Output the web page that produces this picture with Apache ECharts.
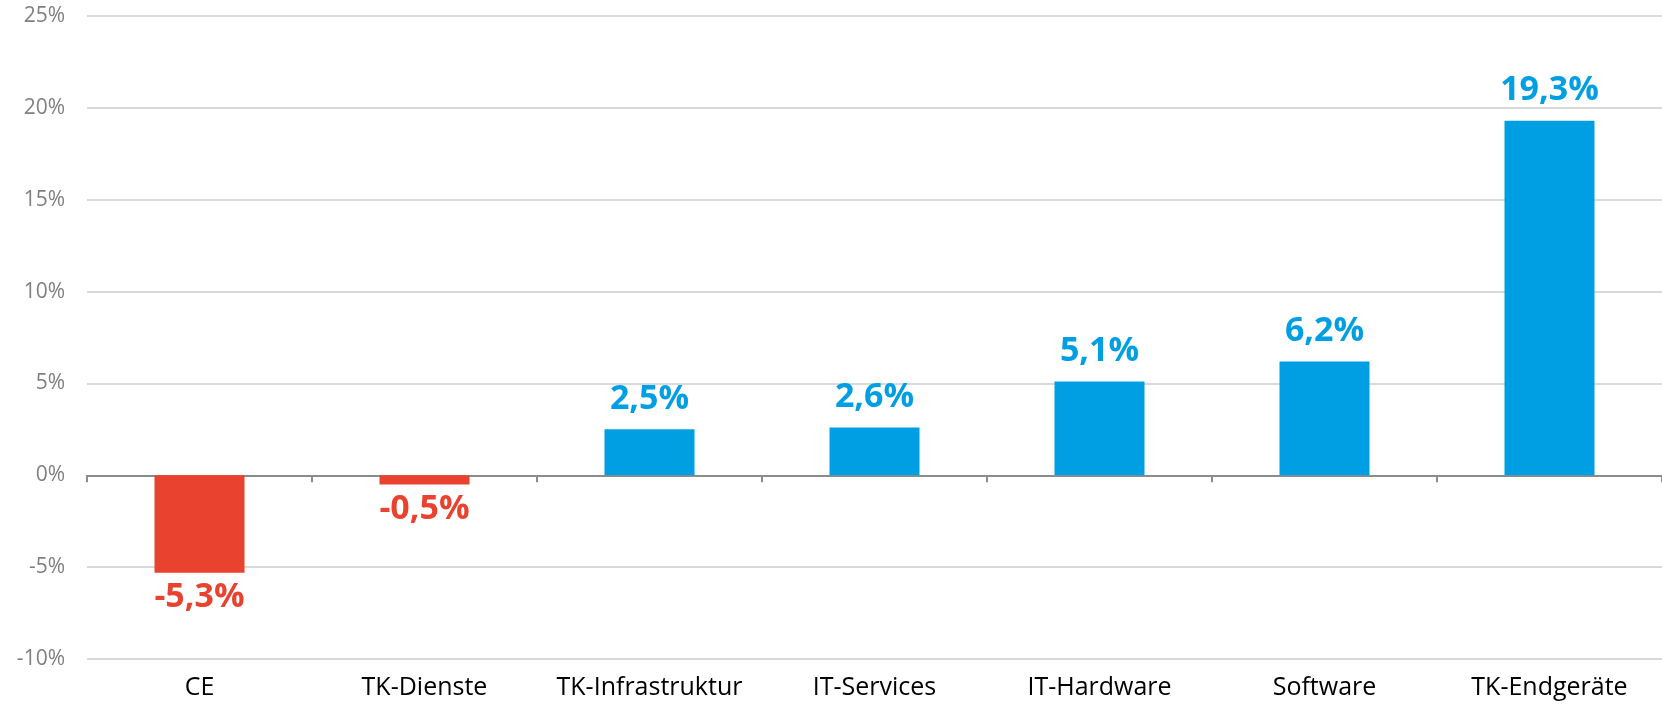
<!DOCTYPE html>
<html><head><meta charset="utf-8">
<script src="https://cdn.jsdelivr.net/npm/echarts@6/dist/echarts.min.js"></script>
<style>html,body{margin:0;padding:0;background:#fff}#c{width:1662px;height:705px}</style>
</head><body><div id="c"></div>
<script>
const categories = ['CE','TK-Dienste','TK-Infrastruktur','IT-Services','IT-Hardware','Software','TK-Endgeräte'];
const values = [-5.3, -0.5, 2.5, 2.6, 5.1, 6.2, 19.3];
const yTicks = [-10, -5, 0, 5, 10, 15, 20, 25];
const RED = '#E9422F', BLUE = '#009FE3';
const fmt = v => v.toFixed(1).replace('.', ',') + '%';
const chart = echarts.init(document.getElementById('c'));
chart.setOption({
  animation: false,
  grid: {left: 87, width: 1581, top: 16, bottom: 46},
  xAxis: [{
    type: 'category', data: categories, position: 'bottom',
    axisLine: {show: false, onZero: false}, axisTick: {show: false},
    axisLabel: {color: '#000', fontSize: 25, fontFamily: 'Open Sans', margin: 16, interval: 0}
  }, {
    type: 'category', data: categories, position: 'bottom',
    axisLine: {show: true, onZero: true, lineStyle: {color: '#8c8c8c', width: 2}},
    axisTick: {show: true, length: 7, interval: 0, lineStyle: {color: '#8c8c8c', width: 2}},
    axisLabel: {show: false}
  }],
  yAxis: {
    type: 'value', min: yTicks[0], max: yTicks[yTicks.length-1], interval: 5,
    axisLine: {show: false}, axisTick: {show: false},
    splitLine: {lineStyle: {color: '#d9d9d9', width: 2}},
    axisLabel: {color: '#808080', fontSize: 21, fontFamily: 'Open Sans', margin: 22,
      formatter: v => v + '%'}
  },
  series: [{
    type: 'bar', xAxisIndex: 0, barWidth: '40%',
    data: values.map(v => ({value: v, itemStyle: {color: v < 0 ? RED : BLUE},
      label: {position: v < 0 ? 'bottom' : 'top', color: v < 0 ? RED : BLUE,
        distance: v < 0 ? 8 : 13}})),
    label: {show: true, fontSize: 34, fontWeight: 'bold', fontFamily: 'Open Sans',
      formatter: p => fmt(p.value)}
  }]
});
</script></body></html>
